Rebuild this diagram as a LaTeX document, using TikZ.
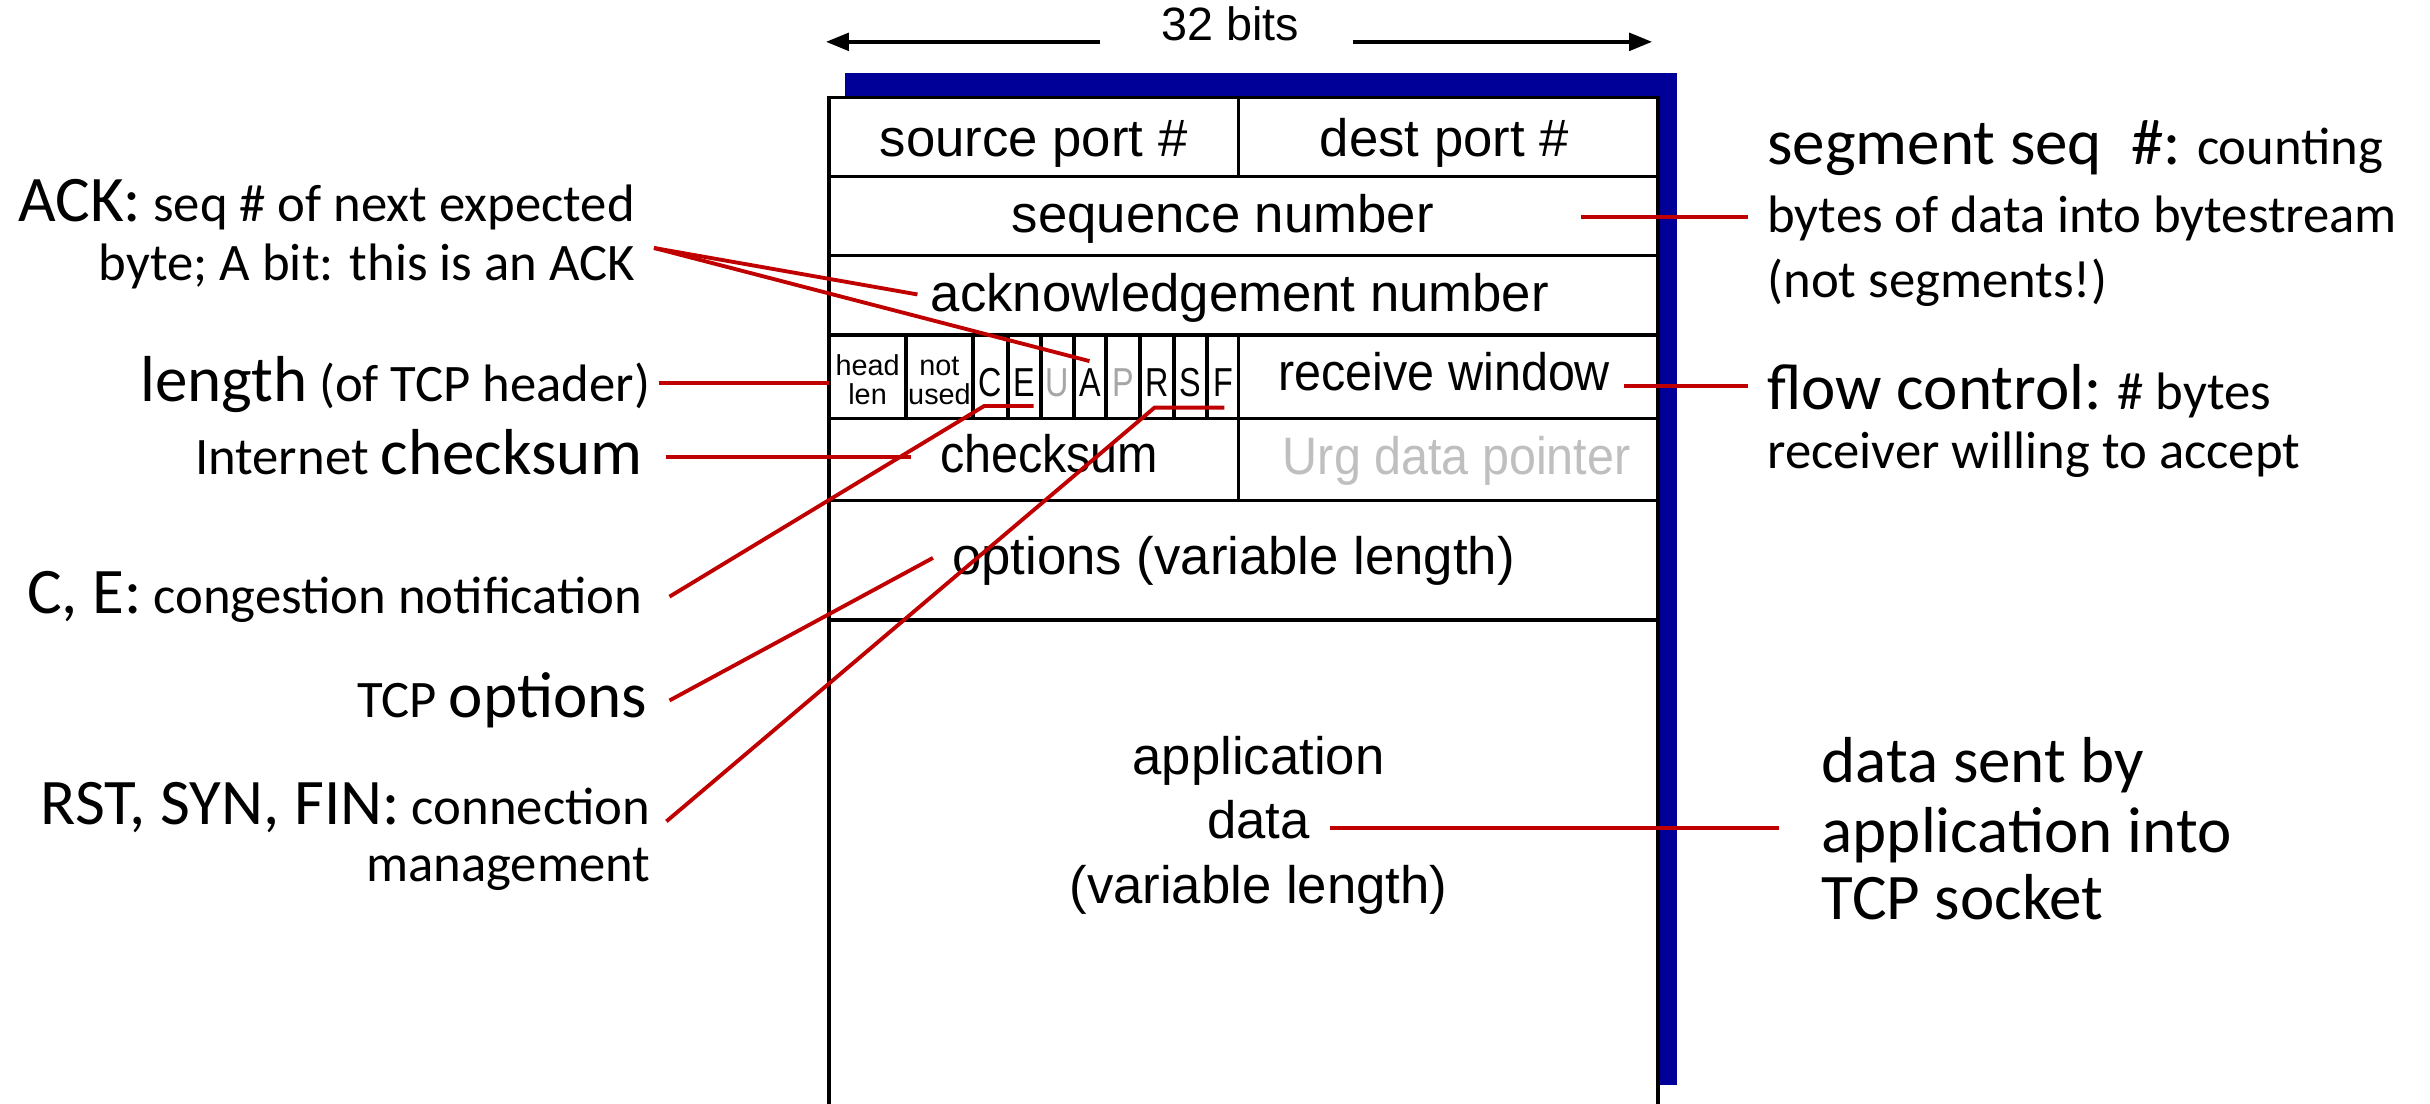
\documentclass[tikz,border=0pt]{standalone}
\usepackage{graphicx}
\usepackage{fontspec}
\setmainfont{Liberation Sans}
\newfontfamily\labfont{Carlito}
\usetikzlibrary{arrows.meta}
\definecolor{shadowblue}{RGB}{0,0,153}
\definecolor{callred}{RGB}{192,0,0}
\definecolor{flaggray}{RGB}{166,166,166}
\definecolor{urggray}{RGB}{191,191,191}
\newcommand\labbig{\fontsize{18.5}{22}\selectfont}
\newcommand\labsmall{\fontsize{15}{18}\selectfont}
\newcommand\narrowtxt[1]{\scalebox{0.92}[1]{#1}}
\newcommand\flagnarrow[1]{\scalebox{0.8}[1]{#1}}
\begin{document}
\begin{tikzpicture}[x=0.015497cm, y=-0.015497cm,
  field/.style={inner sep=0, anchor=base, font=\fontsize{15}{18}\selectfont},
  flagtxt/.style={inner sep=0, anchor=base, font=\fontsize{11.5}{12}\selectfont},
  tinytxt/.style={inner sep=0, anchor=base, font=\fontsize{8.2}{8.5}\selectfont},
  labL/.style={inner sep=0, anchor=base east, font=\labfont\labsmall},
  labR/.style={inner sep=0, anchor=base west, font=\labfont\labsmall},
  frame/.style={line width=1pt, black},
  callout/.style={line width=1.1pt, callred},
  dimarrow/.style={line width=1pt, -{Triangle[length=6.5pt, width=5pt]}},
]
\useasboundingbox (0,0) rectangle (1568,712);

% shadow and frame
\fill[shadowblue] (545,47) rectangle (1082,700);
\filldraw[frame, fill=white] (535,716) -- (535,63) -- (1070,63) -- (1070,716);
\foreach \yy in {114,165,216,270,323,400}
  \draw[frame] (535,\yy) -- (1070,\yy);
\draw[frame] (799,63) -- (799,114);
\draw[frame] (799,216) -- (799,323);
\foreach \xx in {584.6,627.9,650.5,671.8,693,713.7,735.6,757.6,778.9}
  \draw[frame] (\xx,216) -- (\xx,270);

% 32 bits
\node[inner sep=0, anchor=base, font=\fontsize{13.3}{15}\selectfont] (bits) at (794,26) {32 bits};
\coordinate (arrLs) at (710,27);
\coordinate (arrLe) at (533,27);
\coordinate (arrRs) at (873,27);
\coordinate (arrRe) at (1066,27);
\draw[dimarrow] (arrLs) -- (arrLe);
\draw[dimarrow] (arrRs) -- (arrRe);

% fields
\node[field] (srcport) at (667,101) {source port \#};
\node[field] (dstport) at (932,101) {dest port \#};
\node[field] (seqnum) at (789,150) {sequence number};
\node[field] (acknum) at (800,201) {acknowledgement number};
\node[tinytxt] (head) at (559.8,242) {head};
\node[tinytxt] (len) at (559.8,261) {len};
\node[tinytxt] (notw) at (606.2,242) {not};
\node[tinytxt] (used) at (606.2,261) {used};
\node[flagtxt] (fC) at (639.2,256) {\flagnarrow{C}};
\node[flagtxt] (fE) at (661.2,256) {\flagnarrow{E}};
\node[flagtxt, text=flaggray] (fU) at (682.4,256) {\flagnarrow{U}};
\node[flagtxt] (fA) at (703.4,256) {\flagnarrow{A}};
\node[flagtxt, text=flaggray] (fP) at (724.7,256) {\flagnarrow{P}};
\node[flagtxt] (fR) at (746.6,256) {\flagnarrow{R}};
\node[flagtxt] (fS) at (768.3,256) {\flagnarrow{S}};
\node[flagtxt] (fF) at (789.2,256) {\flagnarrow{F}};
\node[field] (rwin) at (932,252) {\narrowtxt{receive window}};
\node[field] (cksum) at (677,305) {\narrowtxt{checksum}};
\node[field, text=urggray] (urg) at (940,306) {\narrowtxt{Urg data pointer}};
\node[field] (opts) at (796,371) {options (variable length)};
\node[field] (app1) at (812,500) {application};
\node[field] (app2) at (812,541) {data};
\node[field] (app3) at (812,583) {(variable length)};

% left labels
\node[labL] (ackA) at (410,143) {{\labbig ACK:} seq \# of next expected};
\node[labL] (ackB) at (410,181) {byte; A bit: this is an ACK};
\node[labL] (lenlab) at (420,259) {{\labbig length} (of TCP header)};
\node[labL] (ckslab) at (415,306) {Internet {\labbig checksum}};
\node[labL] (celab) at (415,396) {{\labbig C, E:} congestion notification};
\node[labL] (optlab) at (418,463) {TCP {\labbig options}};
\node[labL] (rstA) at (420,532) {{\labbig RST, SYN, FIN:} connection};
\node[labL] (rstB) at (420,569) {management};

% right labels
\node[labR] (segA) at (1140,106) {{\labbig segment seq \ \#:} counting};
\node[labR] (segB) at (1140,150) {bytes of data into bytestream};
\node[labR] (segC) at (1140,192) {(not segments!)};
\node[labR] (flowA) at (1140,264) {{\labbig flow control:} \# bytes};
\node[labR] (flowB) at (1140,302) {receiver willing to accept};
\node[labR, font=\labfont\labbig] (dataA) at (1175,505) {data sent by};
\node[labR, font=\labfont\labbig] (dataB) at (1175,550) {application into};
\node[labR, font=\labfont\labbig] (dataC) at (1175,593) {TCP socket};

% callout lines
\coordinate (ackS) at (422,160);
\coordinate (ackE1) at (592,190);
\coordinate (ackE2) at (703,233);
\coordinate (lenS) at (425,247);
\coordinate (lenE) at (535,247);
\coordinate (cksS) at (430,295);
\coordinate (cksE) at (588,295);
\coordinate (ceS) at (432,385);
\coordinate (ceK) at (635,262);
\coordinate (ceE) at (667,262);
\coordinate (optS) at (432,452);
\coordinate (optE) at (602,360);
\coordinate (rstS) at (430,530);
\coordinate (rstK) at (745,263);
\coordinate (rstE) at (790,263);
\coordinate (seqS) at (1020,140);
\coordinate (seqE) at (1128,140);
\coordinate (rwS) at (1048,249);
\coordinate (rwE) at (1128,249);
\coordinate (appS) at (858,534);
\coordinate (appE) at (1148,534);
\draw[callout] (ackS) -- (ackE1);
\draw[callout] (ackS) -- (ackE2);
\draw[callout] (lenS) -- (lenE);
\draw[callout] (cksS) -- (cksE);
\draw[callout] (ceS) -- (ceK) -- (ceE);
\draw[callout] (optS) -- (optE);
\draw[callout] (rstS) -- (rstK) -- (rstE);
\draw[callout] (seqS) -- (seqE);
\draw[callout] (rwS) -- (rwE);
\draw[callout] (appS) -- (appE);
\end{tikzpicture}
\end{document}
